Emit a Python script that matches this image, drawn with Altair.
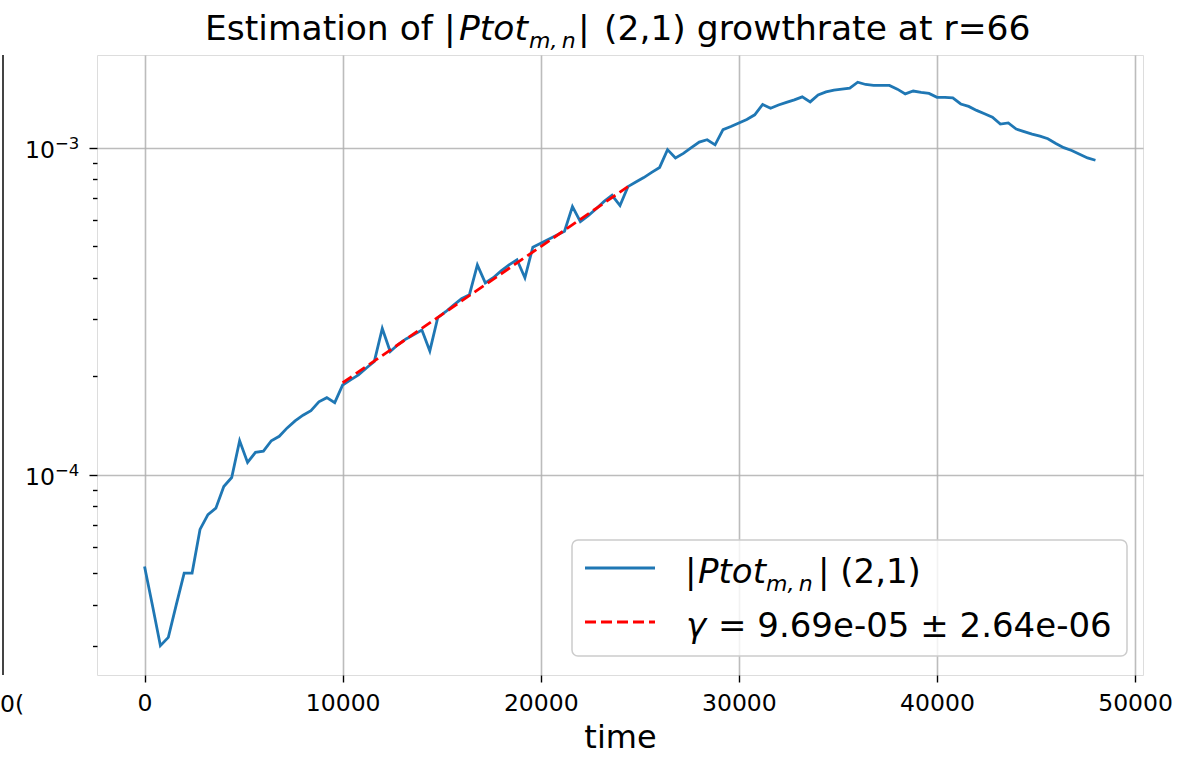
import altair as alt
import pandas as pd

# ---- data ----
ptot = [
    5.24e-5, 3.98e-5, 3.0e-5, 3.18e-5, 4.0e-5, 5.0e-5, 5.0e-5, 6.8e-5, 7.55e-5, 7.9e-5,
    9.2e-5, 9.8e-5, 1.27e-4, 1.09e-4, 1.17e-4, 1.18e-4, 1.27e-4, 1.31e-4, 1.39e-4, 1.46e-4,
    1.52e-4, 1.57e-4, 1.67e-4, 1.72e-4, 1.66e-4, 1.88e-4, 1.95e-4, 2.02e-4, 2.12e-4, 2.22e-4,
    2.8e-4, 2.38e-4, 2.5e-4, 2.6e-4, 2.68e-4, 2.77e-4, 2.39e-4, 3.02e-4, 3.15e-4, 3.3e-4,
    3.45e-4, 3.55e-4, 4.38e-4, 3.86e-4, 4.0e-4, 4.2e-4, 4.38e-4, 4.54e-4, 4.0e-4, 4.96e-4,
    5.1e-4, 5.25e-4, 5.4e-4, 5.55e-4, 6.6e-4, 5.94e-4, 6.2e-4, 6.5e-4, 6.85e-4, 7.15e-4,
    6.65e-4, 7.6e-4, 7.85e-4, 8.1e-4, 8.4e-4, 8.7e-4, 9.86e-4, 9.3e-4, 9.6e-4, 1.0e-3,
    1.04e-3, 1.057e-3, 1.02e-3, 1.135e-3, 1.16e-3, 1.19e-3, 1.22e-3, 1.26e-3, 1.355e-3, 1.32e-3,
    1.35e-3, 1.376e-3, 1.40e-3, 1.43e-3, 1.38e-3, 1.45e-3, 1.48e-3, 1.50e-3, 1.51e-3, 1.52e-3,
    1.585e-3, 1.56e-3, 1.55e-3, 1.55e-3, 1.55e-3, 1.51e-3, 1.46e-3, 1.49e-3, 1.475e-3, 1.465e-3,
    1.425e-3, 1.425e-3, 1.42e-3, 1.36e-3, 1.337e-3, 1.30e-3, 1.27e-3, 1.24e-3, 1.18e-3, 1.19e-3,
    1.14e-3, 1.12e-3, 1.10e-3, 1.085e-3, 1.065e-3, 1.03e-3, 1.0e-3, 9.8e-4, 9.55e-4, 9.3e-4,
    9.15e-4,
]
time = [400 * i for i in range(len(ptot))]

fit_time = [10000, 24400]
fit_value = [1.91e-4, 7.6e-4]

x_ticks = [0, 10000, 20000, 30000, 40000, 50000]
y_major = [1e-4, 1e-3]
y_major_base = ["10", "10"]
y_major_exp = ["\u22124", "\u22123"]
y_minor = [3e-5, 4e-5, 5e-5, 6e-5, 7e-5, 8e-5, 9e-5,
           2e-4, 3e-4, 4e-4, 5e-4, 6e-4, 7e-4, 8e-4, 9e-4]

x_domain = [-2400, 50400]
y_domain = [2.44e-5, 1.92e-3]

FONT = "DejaVu Sans"
BLUE = "#1f77b4"

main_df = pd.DataFrame({"time": time, "value": ptot})
fit_df = pd.DataFrame({"time": fit_time, "value": fit_value})
ylab_df = pd.DataFrame({"value": y_major, "base": y_major_base, "exp": y_major_exp})

major_test = "abs(log(datum.value)/LN10 - round(log(datum.value)/LN10)) < 0.01"

x_enc = alt.X(
    "time:Q",
    scale=alt.Scale(domain=x_domain, nice=False, zero=False),
    axis=alt.Axis(
        values=x_ticks, format="d", title="time",
        labelFontSize=23.5, labelColor="black", labelFont=FONT, labelPadding=9,
        labelFlush=False,
        titleFontSize=32, titleFontWeight="normal", titleColor="black", titleFont=FONT,
        titlePadding=8,
        tickSize=7, tickWidth=1.4, tickColor="black",
        domain=False, grid=True, gridColor="#b0b0b0", gridWidth=1.6, gridOpacity=0.85,
    ),
)
y_enc = alt.Y(
    "value:Q",
    scale=alt.Scale(type="log", domain=y_domain, nice=False, zero=False),
    axis=alt.Axis(
        values=y_major + y_minor,
        labels=False,
        title=None,
        tickColor="black", tickWidth=1.4,
        tickSize={"condition": {"test": major_test, "value": 8}, "value": 4.5},
        domain=False, grid=True, gridColor="#b0b0b0", gridWidth=1.6,
        gridOpacity={"condition": {"test": major_test, "value": 0.85}, "value": 0},
    ),
)

line = alt.Chart(main_df).mark_line(color=BLUE, strokeWidth=2.8).encode(x=x_enc, y=y_enc)
fit = alt.Chart(fit_df).mark_line(color="red", strokeWidth=2.8, strokeDash=[11, 5]).encode(
    x="time:Q", y="value:Q"
)

# y tick labels as 10 with raised exponent
ylab_base = alt.Chart(ylab_df).mark_text(
    font=FONT, fontSize=23.5, align="right", baseline="alphabetic", dy=10, color="black"
).encode(x=alt.value(-42), y="value:Q", text="base:N")
ylab_exp = alt.Chart(ylab_df).mark_text(
    font=FONT, fontSize=16.5, align="left", baseline="alphabetic", dy=1, color="black"
).encode(x=alt.value(-42), y="value:Q", text="exp:N")

one = alt.Data(values=[{}])


def txt(text, x, y, size, style="normal", align="left", baseline="alphabetic", color="black"):
    return alt.Chart(one).mark_text(
        text=text, font=FONT, fontSize=size, fontStyle=style, align=align,
        baseline=baseline, color=color,
    ).encode(x=alt.value(x), y=alt.value(y))


# Title, composed of pieces (italic symbol with subscript)
title_layers = [
    txt("Estimation of |", 108, -15, 34.5),
    txt("Ptot", 362, -15, 34.5, style="italic"),
    txt("m,\u2009n", 432, -7, 22, style="italic"),
    txt("|", 481, -15, 34.5),
    txt("(2,1) growthrate at r=66", 507, -15, 34.5),
]

# Legend box
legend_box = alt.Chart(one).mark_rect(
    fill="white", fillOpacity=0.8, stroke="#cccccc", strokeWidth=1.5, cornerRadius=6
).encode(x=alt.value(475), x2=alt.value(1030), y=alt.value(485), y2=alt.value(601))
leg_blue = alt.Chart(one).mark_rule(color=BLUE, strokeWidth=2.8).encode(
    x=alt.value(488), x2=alt.value(558), y=alt.value(513)
)
leg_red = alt.Chart(one).mark_rule(color="red", strokeWidth=2.8, strokeDash=[11, 5]).encode(
    x=alt.value(488), x2=alt.value(558), y=alt.value(567)
)
legend_layers = [
    legend_box, leg_blue, leg_red,
    txt("|", 588, 528, 34),
    txt("Ptot", 601, 528, 34, style="italic"),
    txt("m,\u2009n", 669, 536, 22, style="italic"),
    txt("| (2,1)", 721, 528, 34),
    txt("γ", 589, 582, 34, style="italic"),
    txt("= 9.69e-05 ± 2.64e-06", 621, 582, 34),
]

# Fragment of the neighbouring panel visible at the left edge
frag_rule = alt.Chart(one).mark_rule(color="#444444", strokeWidth=2).encode(
    x=alt.value(-94), y=alt.value(0), y2=alt.value(620)
)
frag_text = txt("0(", -97, 657, 23.5)

chart = alt.layer(
    line, fit, ylab_base, ylab_exp, *legend_layers, *title_layers, frag_rule, frag_text
).properties(
    width=1046,
    height=620,
    autosize=alt.AutoSizeParams(type="none"),
    padding={"left": 97, "top": 55, "right": 56, "bottom": 83},
    background="white",
).configure_view(
    stroke="#1a1a1a", strokeWidth=1.8
).configure(font=FONT)

chart.save("out.html", embed_options={"renderer": "svg", "actions": False})
